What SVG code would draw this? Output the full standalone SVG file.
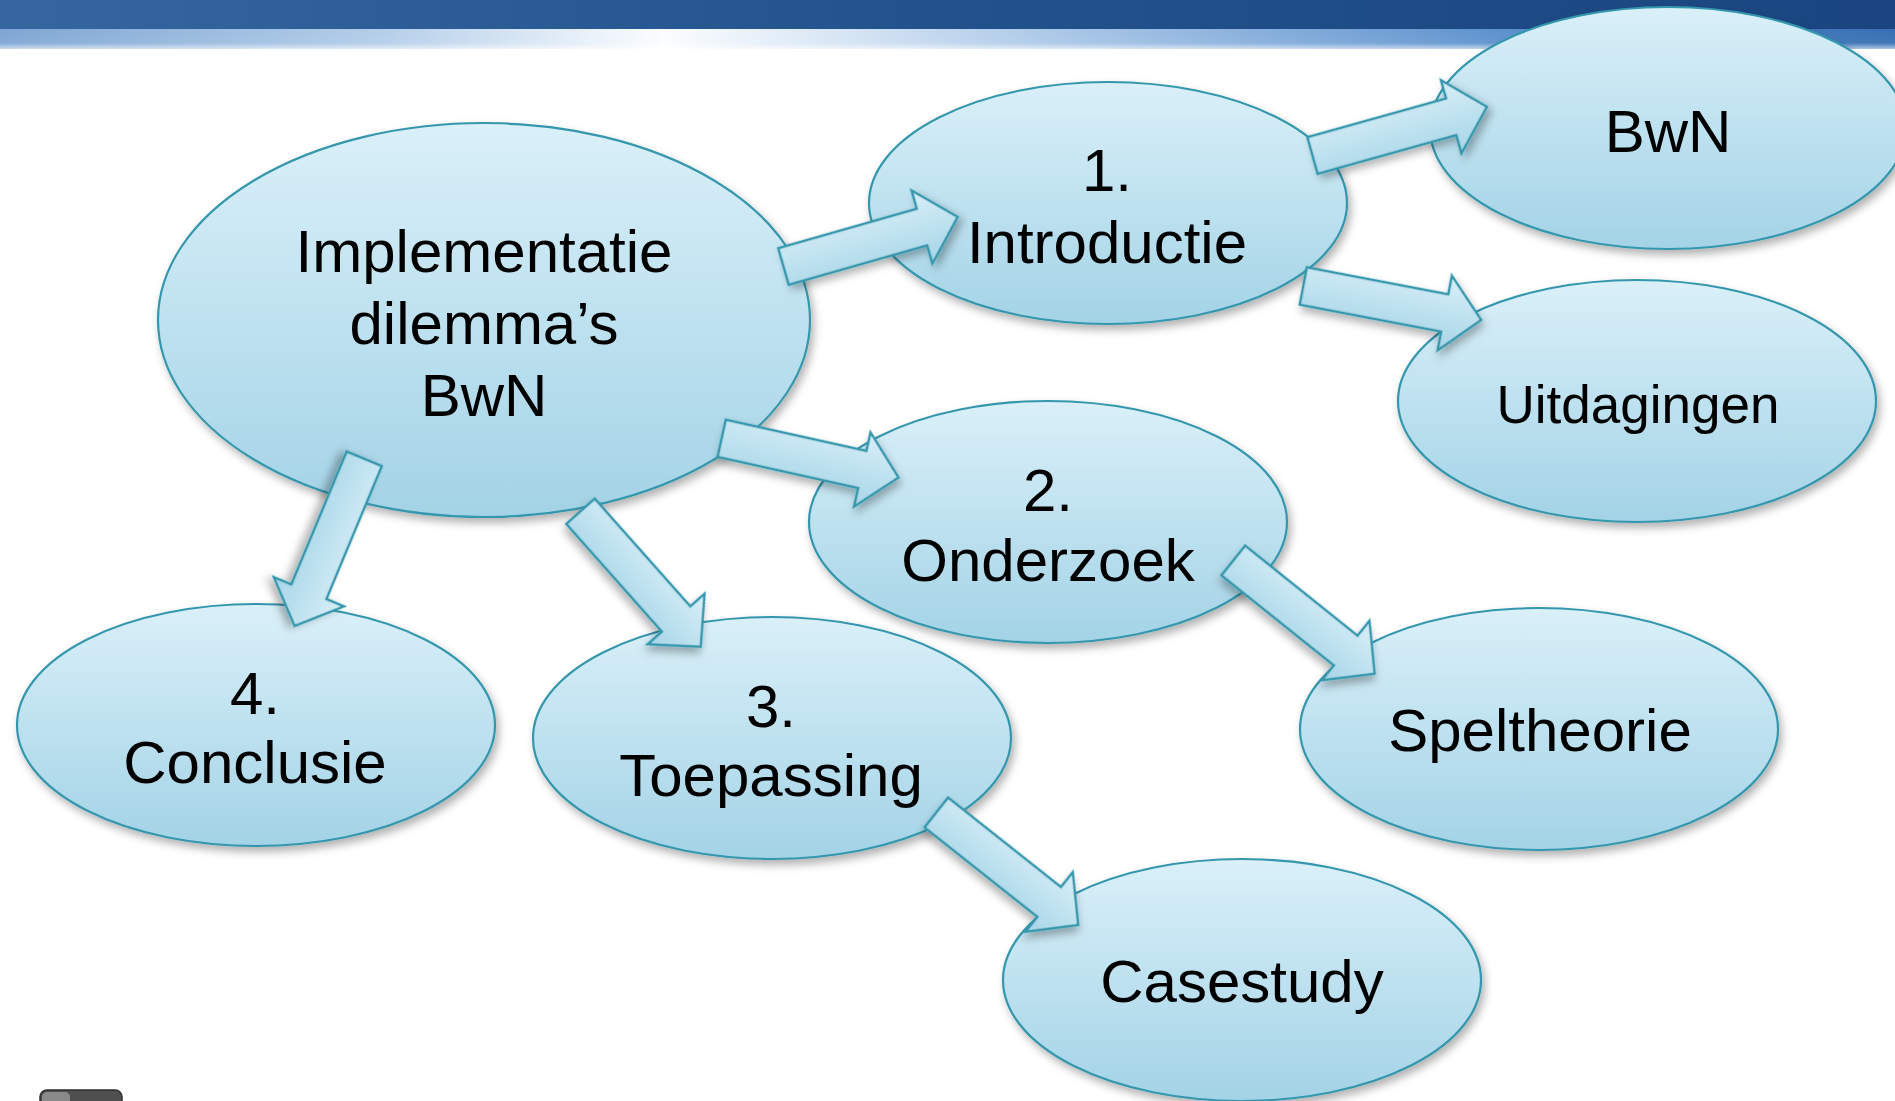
<svg xmlns="http://www.w3.org/2000/svg" width="1895" height="1101" viewBox="0 0 1895 1101">
<defs>
  <linearGradient id="topBar" x1="0" y1="0" x2="1" y2="0">
    <stop offset="0" stop-color="#3566a0"/>
    <stop offset="0.5" stop-color="#22528c"/>
    <stop offset="1" stop-color="#1a4580"/>
  </linearGradient>
  <linearGradient id="lightBar" x1="0" y1="0" x2="1" y2="0">
    <stop offset="0" stop-color="#7ea6d3"/>
    <stop offset="0.2" stop-color="#b3cde9"/>
    <stop offset="0.35" stop-color="#fbfdff"/>
    <stop offset="0.55" stop-color="#adc9e8"/>
    <stop offset="0.8" stop-color="#5b90cd"/>
    <stop offset="1" stop-color="#3670b4"/>
  </linearGradient>
  <linearGradient id="fadeV" x1="0" y1="0" x2="0" y2="1">
    <stop offset="0" stop-color="#ffffff" stop-opacity="0"/>
    <stop offset="0.7" stop-color="#ffffff" stop-opacity="0.05"/>
    <stop offset="1" stop-color="#ffffff" stop-opacity="0.6"/>
  </linearGradient>
  <linearGradient id="nodeFill" x1="0" y1="0" x2="0" y2="1">
    <stop offset="0" stop-color="#daf0f9"/>
    <stop offset="1" stop-color="#a3d3e6"/>
  </linearGradient>
  <linearGradient id="arrowFill" x1="0" y1="0" x2="0" y2="1">
    <stop offset="0" stop-color="#d8eff8"/>
    <stop offset="1" stop-color="#a6d5e7"/>
  </linearGradient>
  <filter id="shadow" x="-20%" y="-20%" width="140%" height="150%">
    <feDropShadow dx="3" dy="5" stdDeviation="4" flood-color="#000" flood-opacity="0.3"/>
  </filter>
  <polygon id="arrowShape" points="0,-19 144,-19 144,-38 181,0 144,38 144,19 0,19"/>
</defs>
<style>
  .node ellipse { fill: url(#nodeFill); stroke: #3597ad; stroke-width: 2.2; filter: url(#shadow); }
  .node text { font-family: "Liberation Sans", Arial, sans-serif; font-size: 60px; fill: #000; text-anchor: middle; }
  .arrow { fill: url(#arrowFill); stroke: #3597ad; stroke-width: 2.5; stroke-linejoin: miter; filter: url(#shadow); }
</style>
<rect x="0" y="0" width="1895" height="1101" fill="#ffffff"/>
<g id="header">
  <rect x="0" y="0" width="1895" height="29" fill="url(#topBar)"/>
  <rect x="0" y="29" width="1895" height="20" fill="url(#lightBar)"/>
  <rect x="0" y="29" width="1895" height="20" fill="url(#fadeV)"/>
</g>
<g id="nodes">
  <g id="node-main" class="node">
    <ellipse cx="484" cy="320" rx="326" ry="197"/>
    <text x="484" y="272">Implementatie</text>
    <text x="484" y="344">dilemma’s</text>
    <text x="484" y="416">BwN</text>
  </g>
  <g id="node-introductie" class="node">
    <ellipse cx="1108" cy="203" rx="239" ry="121"/>
    <text x="1107" y="191">1.</text>
    <text x="1107" y="263">Introductie</text>
  </g>
  <g id="node-bwn" class="node">
    <ellipse cx="1668" cy="128" rx="238" ry="121"/>
    <text x="1668" y="152">BwN</text>
  </g>
  <g id="node-uitdagingen" class="node">
    <ellipse cx="1637" cy="401" rx="239" ry="121"/>
    <text x="1638" y="423" style="font-size:53px">Uitdagingen</text>
  </g>
  <g id="node-onderzoek" class="node">
    <ellipse cx="1048" cy="522" rx="239" ry="121"/>
    <text x="1048" y="511">2.</text>
    <text x="1048" y="581">Onderzoek</text>
  </g>
  <g id="node-speltheorie" class="node">
    <ellipse cx="1539" cy="729" rx="239" ry="121"/>
    <text x="1540" y="751">Speltheorie</text>
  </g>
  <g id="node-conclusie" class="node">
    <ellipse cx="256" cy="725" rx="239" ry="121"/>
    <text x="255" y="714">4.</text>
    <text x="255" y="783">Conclusie</text>
  </g>
  <g id="node-toepassing" class="node">
    <ellipse cx="772" cy="738" rx="239" ry="121"/>
    <text x="771" y="727">3.</text>
    <text x="771" y="796">Toepassing</text>
  </g>
  <g id="node-casestudy" class="node">
    <ellipse cx="1242" cy="980" rx="239" ry="121"/>
    <text x="1242" y="1002">Casestudy</text>
  </g>
</g>
<g id="connectors">
  <use href="#arrowShape" class="arrow" transform="translate(783.5,266.5) rotate(-15.9)"/>
  <use href="#arrowShape" class="arrow" transform="translate(1312.5,155.5) rotate(-15.6)"/>
  <use href="#arrowShape" class="arrow" transform="translate(1303.3,286) rotate(10.8)"/>
  <use href="#arrowShape" class="arrow" transform="translate(721.7,438.3) rotate(12.5)"/>
  <use href="#arrowShape" class="arrow" transform="translate(364.2,458.8) rotate(112.6)"/>
  <use href="#arrowShape" class="arrow" transform="translate(580.5,511.3) rotate(48.4)"/>
  <use href="#arrowShape" class="arrow" transform="translate(1233.3,560.5) rotate(38.7)"/>
  <use href="#arrowShape" class="arrow" transform="translate(936.3,812.5) rotate(38.4)"/>
</g>
<g id="corner-icon">
  <rect x="40" y="1090" width="82" height="24" rx="7" fill="#4f4f4f" stroke="#2e2e2e" stroke-width="1.5"/>
  <rect x="42" y="1092" width="28" height="20" rx="5" fill="#8a8a8a"/>
</g>
</svg>
